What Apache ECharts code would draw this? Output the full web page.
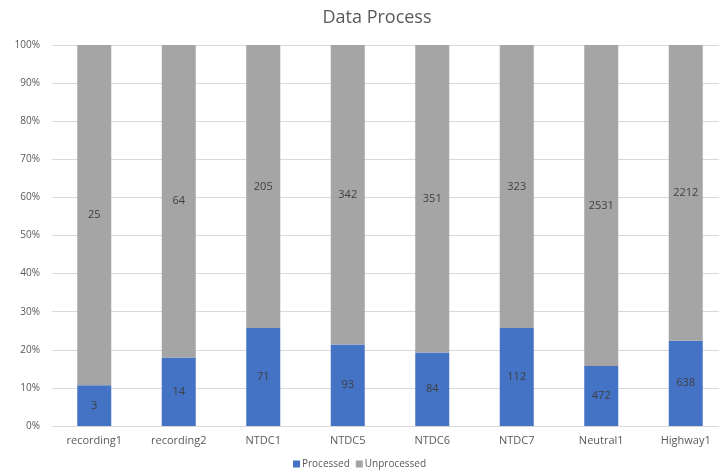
<!DOCTYPE html>
<html>
<head>
<meta charset="utf-8">
<script src="https://cdn.jsdelivr.net/npm/echarts@6/dist/echarts.min.js"></script>
<style>
  html, body { margin: 0; padding: 0; background: #fff; }
  #chart { width: 719px; height: 474px; }
</style>
</head>
<body>
<div id="chart"></div>
<script>
// Recordings and their processed / unprocessed item counts
const categories = ['recording1', 'recording2', 'NTDC1', 'NTDC5', 'NTDC6', 'NTDC7', 'Neutral1', 'Highway1'];
const processed = [3, 14, 71, 93, 84, 112, 472, 638];
const unprocessed = [25, 64, 205, 342, 351, 323, 2531, 2212];
const yTicks = [0, 10, 20, 30, 40, 50, 60, 70, 80, 90, 100];

// Share of each recording's total, in percent (100% stacked columns)
const totals = processed.map((p, i) => p + unprocessed[i]);
const toShare = (arr) => arr.map((v, i) => ({ value: v / totals[i] * 100, count: v }));

const FONT = '"Open Sans", "Noto Sans", sans-serif';
const chart = echarts.init(document.getElementById('chart'));

const labelStyle = {
  show: true,
  position: 'inside',
  color: '#404040',
  fontSize: 11,
  fontFamily: FONT,
  formatter: (p) => String(p.data.count)
};

chart.setOption({
  animation: false,
  title: {
    text: 'Data Process',
    left: 372,
    top: 4,
    textAlign: 'center',
    textStyle: { color: '#595959', fontSize: 18, fontWeight: 'normal', fontFamily: FONT }
  },
  legend: {
    bottom: 0,
    left: 288,
    itemWidth: 7,
    itemHeight: 7,
    itemGap: 6,
    icon: 'rect',
    textStyle: { color: '#595959', fontSize: 10, fontFamily: FONT, padding: [0, 0, 0, -3] },
    data: ['Processed', 'Unprocessed']
  },
  // plot area runs past the right edge of the canvas
  grid: { left: 52, top: 45, width: 676, height: 381, containLabel: false, outerBoundsMode: 'none' },
  xAxis: {
    type: 'category',
    data: categories,
    axisLine: { lineStyle: { color: '#D9D9D9' } },
    axisTick: { show: false },
    axisLabel: { color: '#595959', fontSize: 11, fontFamily: FONT, margin: 9 }
  },
  yAxis: {
    type: 'value',
    min: yTicks[0],
    max: yTicks[yTicks.length - 1],
    interval: 10,
    axisLine: { show: false },
    axisTick: { show: false },
    splitLine: { lineStyle: { color: '#D9D9D9' } },
    axisLabel: { color: '#595959', fontSize: 10, fontFamily: FONT, margin: 12, formatter: '{value}%' }
  },
  series: [
    {
      name: 'Processed',
      type: 'bar',
      stack: 'total',
      barWidth: 34,
      itemStyle: { color: '#4472C4' },
      label: labelStyle,
      data: toShare(processed)
    },
    {
      name: 'Unprocessed',
      type: 'bar',
      stack: 'total',
      barWidth: 34,
      itemStyle: { color: '#A5A5A5' },
      label: labelStyle,
      data: toShare(unprocessed)
    }
  ]
});
</script>
</body>
</html>
